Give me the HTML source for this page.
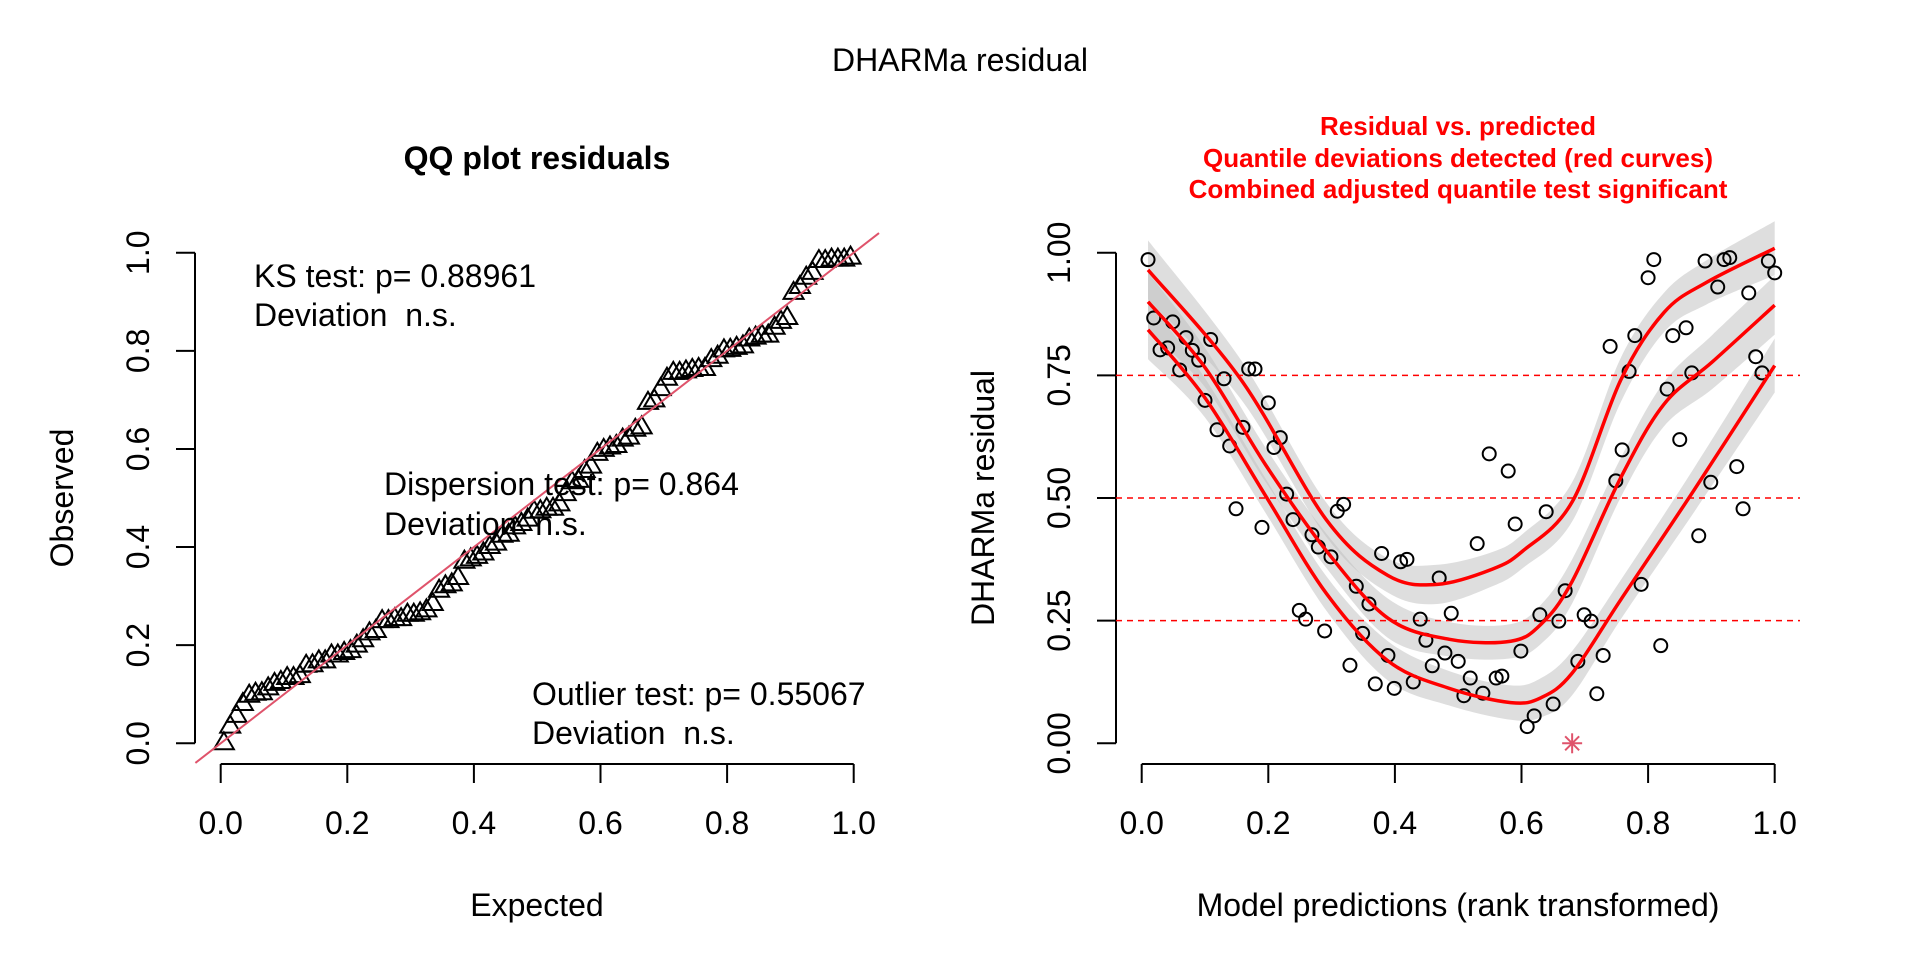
<!DOCTYPE html>
<html><head><meta charset="utf-8"><style>
html,body{margin:0;padding:0;background:#fff}
svg{display:block;font-family:"Liberation Sans",Arial,sans-serif}
</style></head><body>
<svg id="fig" width="1920" height="960" viewBox="0 0 1920 960">
<rect width="1920" height="960" fill="#fff"/>
<text x="960" y="60" font-size="32" text-anchor="middle" dominant-baseline="central">DHARMa residual</text>
<g id="left"></g>
<g id="right"></g>
</svg>
<script>
const NS="http://www.w3.org/2000/svg";
// Residual data (x = rank-transformed predictions, y = scaled residuals)
const predX=[0.01,0.019,0.029,0.041,0.049,0.06,0.07,0.08,0.09,0.10,0.109,0.119,0.13,0.139,0.149,0.16,0.169,0.179,0.19,0.2,0.209,0.219,0.229,0.239,0.249,0.259,0.269,0.279,0.289,0.299,0.309,0.319,0.329,0.339,0.349,0.359,0.369,0.379,0.389,0.399,0.409,0.419,0.429,0.44,0.449,0.459,0.47,0.479,0.489,0.5,0.509,0.519,0.53,0.539,0.549,0.56,0.569,0.579,0.59,0.599,0.609,0.62,0.629,0.639,0.65,0.659,0.669,0.689,0.699,0.71,0.719,0.729,0.74,0.749,0.759,0.77,0.779,0.789,0.8,0.809,0.82,0.83,0.839,0.85,0.86,0.869,0.88,0.89,0.899,0.91,0.92,0.929,0.94,0.95,0.959,0.97,0.98,0.99,1.0];
const residY=[0.986,0.867,0.802,0.806,0.859,0.761,0.827,0.801,0.781,0.699,0.823,0.639,0.743,0.606,0.478,0.644,0.763,0.763,0.44,0.694,0.603,0.623,0.508,0.456,0.271,0.253,0.425,0.4,0.229,0.38,0.473,0.487,0.159,0.32,0.224,0.284,0.121,0.387,0.179,0.112,0.37,0.375,0.125,0.253,0.21,0.158,0.337,0.184,0.265,0.167,0.097,0.133,0.407,0.102,0.59,0.133,0.137,0.555,0.447,0.188,0.034,0.056,0.262,0.472,0.08,0.249,0.311,0.167,0.262,0.249,0.101,0.179,0.809,0.535,0.598,0.758,0.831,0.324,0.949,0.986,0.199,0.722,0.831,0.619,0.847,0.755,0.423,0.983,0.532,0.93,0.986,0.99,0.564,0.478,0.918,0.788,0.755,0.983,0.959];
const outlierX=[0.68];
const outlierY=[0.0];
// Quantile regression curves (knots)
const q75X=[0.01,0.157,0.292,0.389,0.467,0.554,0.602,0.68,0.757,0.825,0.893,1.0];
const q75Y=[0.965,0.741,0.455,0.342,0.324,0.355,0.392,0.492,0.741,0.878,0.94,1.009];
const q50X=[0.01,0.1,0.196,0.292,0.389,0.486,0.583,0.631,0.68,0.757,0.825,0.902,1.0];
const q50Y=[0.9,0.766,0.567,0.392,0.255,0.212,0.208,0.243,0.33,0.542,0.691,0.778,0.893];
const q25X=[0.01,0.1,0.196,0.292,0.389,0.486,0.583,0.631,0.68,0.757,0.873,1.0];
const q25Y=[0.843,0.704,0.504,0.305,0.168,0.112,0.083,0.093,0.143,0.293,0.517,0.77];
const bandHalf=[0.06,0.04,0.035,0.035,0.04,0.035,0.035,0.04,0.045,0.04,0.045,0.055,0.06];
const hLines=[0.25,0.5,0.75];
const lxTicks=[0,0.2,0.4,0.6,0.8,1.0], lxLabels=["0.0","0.2","0.4","0.6","0.8","1.0"];
const lyTicks=[0,0.2,0.4,0.6,0.8,1.0], lyLabels=["0.0","0.2","0.4","0.6","0.8","1.0"];
const ryTicks=[0,0.25,0.5,0.75,1.0], ryLabels=["0.00","0.25","0.50","0.75","1.00"];

function el(tag,attrs,parent){const e=document.createElementNS(NS,tag);for(const k in attrs)e.setAttribute(k,attrs[k]);parent.appendChild(e);return e;}
const yS=v=>743.3-v*490.6;
const lxS=v=>220.7+v*633;
const rxS=v=>1141.7+v*633;
const AXY=764, TICKY=783, LABY=823;

function catmull(pts){
  let d="M"+pts[0][0]+","+pts[0][1];
  for(let i=0;i<pts.length-1;i++){
    const p0=pts[Math.max(i-1,0)],p1=pts[i],p2=pts[i+1],p3=pts[Math.min(i+2,pts.length-1)];
    const c1=[p1[0]+(p2[0]-p0[0])/6,p1[1]+(p2[1]-p0[1])/6];
    const c2=[p2[0]-(p3[0]-p1[0])/6,p2[1]-(p3[1]-p1[1])/6];
    d+="C"+c1[0]+","+c1[1]+" "+c2[0]+","+c2[1]+" "+p2[0]+","+p2[1];
  }
  return d;
}
function text(parent,x,y,s,opt){
  const t=el("text",Object.assign({x:x,y:y,"font-size":32,"text-anchor":"middle","dominant-baseline":"central"},opt||{}),parent);
  t.textContent=s;return t;
}

// LEFT PANEL
const L=document.getElementById("left");
let t;
t=text(L,537,158,"QQ plot residuals",{"font-weight":"bold"});


t=text(L,537,905,"Expected");


t=text(L,62,498,"Observed",{transform:"rotate(-90 62 498)"});


let ax=el("g",{stroke:"#000","stroke-width":2,fill:"none"},L);


el("line",{x1:lxS(0),x2:lxS(1),y1:AXY,y2:AXY},ax);
lxTicks.forEach((v,i)=>{el("line",{x1:lxS(v),x2:lxS(v),y1:AXY,y2:TICKY},ax);
  const tl=text(L,lxS(v),LABY,lxLabels[i]);
  
  });
ax=el("g",{stroke:"#000","stroke-width":2,fill:"none"},L);


el("line",{x1:195,x2:195,y1:yS(0),y2:yS(1)},ax);
lyTicks.forEach((v,i)=>{el("line",{x1:176,x2:195,y1:yS(v),y2:yS(v)},ax);
  const tl=text(L,138,yS(v),lyLabels[i],{transform:`rotate(-90 138 ${yS(v)})`});
  
  });
// QQ points
const sorted=residY.concat(outlierY).slice().sort((a,b)=>a-b);
const n=sorted.length;
const qg=el("g",{fill:"none",stroke:"#000","stroke-width":2},L);


sorted.forEach((v,i)=>{
  const ex=(i+0.5)/n, x=lxS(ex), y=yS(v);
  const p=el("polygon",{points:`${x-10},${y+6} ${x+10},${y+6} ${x},${y-11}`},qg);
  
  
});
const ql=el("line",{x1:lxS(-0.04),y1:yS(-0.04),x2:lxS(1.04),y2:yS(1.04),stroke:"#DF536B","stroke-width":2},L);


const ann=[[254,276,"KS test: p= 0.88961","ks-test-text"],[254,315,"Deviation\u00a0 n.s.","ks-deviation-text"],
[384,484,"Dispersion test: p= 0.864","dispersion-test-text"],[384,524,"Deviation\u00a0 n.s.","dispersion-deviation-text"],
[532,694,"Outlier test: p= 0.55067","outlier-test-text"],[532,733,"Deviation\u00a0 n.s.","outlier-deviation-text"]];
ann.forEach(a=>{const tt=text(L,a[0],a[1],a[2],{"text-anchor":"start"});
  
  });

// RIGHT PANEL
const R=document.getElementById("right");
[["Residual vs. predicted",126],["Quantile deviations detected (red curves)",158],["Combined adjusted quantile test significant",189]].forEach((a,i)=>{
  const tt=text(R,1458,a[1],a[0],{"font-size":26,"font-weight":"bold",fill:"#FF0000"});
  
  });
t=text(R,1458,905,"Model predictions (rank transformed)");


t=text(R,983,498,"DHARMa residual",{transform:"rotate(-90 983 498)"});


ax=el("g",{stroke:"#000","stroke-width":2,fill:"none"},R);


el("line",{x1:rxS(0),x2:rxS(1),y1:AXY,y2:AXY},ax);
lxTicks.forEach((v,i)=>{el("line",{x1:rxS(v),x2:rxS(v),y1:AXY,y2:TICKY},ax);
  const tl=text(R,rxS(v),LABY,lxLabels[i]);
  
  });
ax=el("g",{stroke:"#000","stroke-width":2,fill:"none"},R);


el("line",{x1:1116,x2:1116,y1:yS(0),y2:yS(1)},ax);
ryTicks.forEach((v,i)=>{el("line",{x1:1097,x2:1116,y1:yS(v),y2:yS(v)},ax);
  const tl=text(R,1059,yS(v),ryLabels[i],{transform:`rotate(-90 1059 ${yS(v)})`});
  
  });
// bands
function band(xs,ys,name){
  const up=xs.map((x,i)=>[rxS(x),yS(ys[i]+bandHalf[Math.min(i,bandHalf.length-1)])]);
  const lo=xs.map((x,i)=>[rxS(x),yS(ys[i]-bandHalf[Math.min(i,bandHalf.length-1)])]).reverse();
  const d=catmull(up)+"L"+catmull(lo).slice(1)+"Z";
  const p=el("path",{d:d,fill:"#bebebe","fill-opacity":0.5,stroke:"none"},R);
  
  
}
band(q75X,q75Y,'band-q75');band(q50X,q50Y,'band-q50');band(q25X,q25Y,'band-q25');
hLines.forEach(v=>{const l=el("line",{x1:1116,x2:1800,y1:yS(v),y2:yS(v),stroke:"#FF0000","stroke-width":1.5,"stroke-dasharray":"6,5"},R);
  
  });
const pg=el("g",{fill:"none",stroke:"#000","stroke-width":2},R);


predX.forEach((x,i)=>{const c=el("circle",{cx:rxS(x),cy:yS(residY[i]),r:6.5},pg);
  
  });
function curve(xs,ys,name){
  const p=el("path",{d:catmull(xs.map((x,i)=>[rxS(x),yS(ys[i])])),fill:"none",stroke:"#FF0000","stroke-width":3.5},R);
  
  
}
curve(q75X,q75Y,'quantile-curve-75');curve(q50X,q50Y,'quantile-curve-50');curve(q25X,q25Y,'quantile-curve-25');
outlierX.forEach((x,i)=>{
  const g=el("g",{stroke:"#DF536B","stroke-width":2},R);
  
  
  const cx=rxS(x),cy=yS(outlierY[i]);
  el("line",{x1:cx-10,x2:cx+10,y1:cy,y2:cy},g);
  el("line",{x1:cx,x2:cx,y1:cy-10,y2:cy+10},g);
  el("line",{x1:cx-7,x2:cx+7,y1:cy-7,y2:cy+7},g);
  el("line",{x1:cx-7,x2:cx+7,y1:cy+7,y2:cy-7},g);
});
</script>
</body></html>
